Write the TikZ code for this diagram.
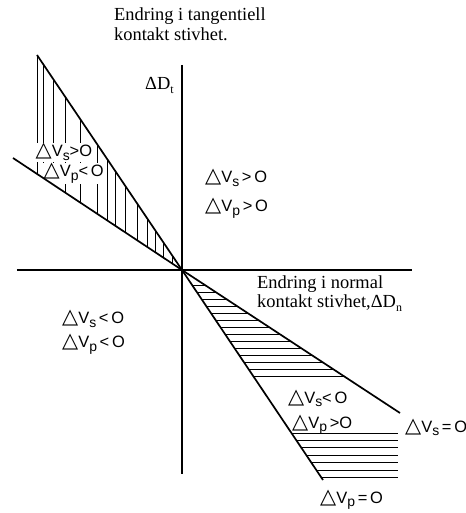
\documentclass[tikz,border=0pt]{standalone}
\usepackage{fontspec}
\setmainfont{Liberation Serif}
\setsansfont{Liberation Sans}
\newfontfamily\trifont{DejaVu Sans}
\usetikzlibrary{positioning}

\newcommand{\dV}[1]{{\trifont\fontsize{21}{21}\selectfont △}V\raisebox{-0.45ex}{\fontsize{14}{14}\selectfont #1}}
\newcommand{\lavt}[1]{\raisebox{-0.45ex}{\fontsize{12}{12}\selectfont #1}}

\begin{document}
\begin{tikzpicture}[x=1bp, y=1bp,
    akse/.style={line width=2.2bp},
    grense/.style={line width=1.7bp},
    skravur/.style={line width=0.8bp},
    merke/.style={font=\sffamily\fontsize{16.5}{16.5}\selectfont, inner sep=0pt, anchor=base west},
    tekst/.style={font=\fontsize{18.5}{20}\selectfont, inner sep=0pt, anchor=base west}]

  \useasboundingbox (-182,-243) rectangle (284,270);

  % Origo og endepunkter
  \coordinate (O) at (0,0);
  \coordinate (xV) at (-165,0);
  \coordinate (xH) at (230,0);
  \coordinate (yT) at (0,205);
  \coordinate (yB) at (0,-204);
  \coordinate (bratt) at (-145,215);
  \coordinate (slak) at (-169,112);
  \coordinate (vs0) at (218,-143);
  \coordinate (vp0) at (141,-210);

  % Skravur oppe til venstre (loddrett)
  \foreach \x in {-145,-139,-129,-117,-102,-85,-75,-67,-57,-45,-35,-27,-19,-10}
    \draw[skravur] (\x,{-0.663*\x}) -- (\x,{-1.483*\x});

  % Skravur nede til hoyre (vannrett)
  \foreach \y in {-15,-22,...,-107}
    \draw[skravur] ({-0.671*\y},\y) -- ({-1.524*\y},\y);
  \foreach \y in {-163,-170,-177,-185,-192,-200,-207}
    \draw[skravur] ({-0.671*\y},\y) -- (216,\y);

  % Merker i kvadrantene
  \node[merke, fill=white, inner sep=0.5bp] (vsA) at (-147,113) {\dV{s}>O};
  \node[merke, fill=white, inner sep=0.5bp] (vpA) at (-139,93) {\dV{p}<\,O};
  \node[merke] (vsB) at (23,87) {\dV{s}\,>\,O};
  \node[merke] (vpB) at (23,58) {\dV{p}\,>\,O};
  \node[merke] (vsC) at (-120,-54) {\dV{s}\,<\,O};
  \node[merke] (vpC) at (-120,-78) {\dV{p}\,<\,O};
  \node[merke] (vsD) at (106,-133) {\dV{s}<\,O};
  \node[merke] (vpD) at (110,-158) {\dV{p}\,>O};
  \node[merke] (vsE) at (223,-162) {\dV{s}\,=\,O};
  \node[merke] (vpE) at (138,-233) {\dV{p}\,=\,O};

  % Grenselinjer
  \draw[grense] (bratt) -- (O);
  \draw[grense] (slak) -- (O);
  \draw[grense] (O) -- (vs0);
  \draw[grense] (O) -- (vp0);

  % Akser
  \draw[akse] (xV) -- (xH);
  \draw[akse] (yT) -- (yB);

  % Aksetekster
  \node[tekst] (tang1) at (-68,249) {Endring i tangentiell};
  \node[tekst] (tang2) at (-68,229) {kontakt stivhet.};
  \node[tekst] (Dt) at (-37,180) {ΔD\lavt{t}};
  \node[tekst] (norm1) at (75,-19) {Endring i normal};
  \node[tekst] (norm2) at (75,-38) {kontakt stivhet,ΔD\lavt{n}};
\end{tikzpicture}
\end{document}
